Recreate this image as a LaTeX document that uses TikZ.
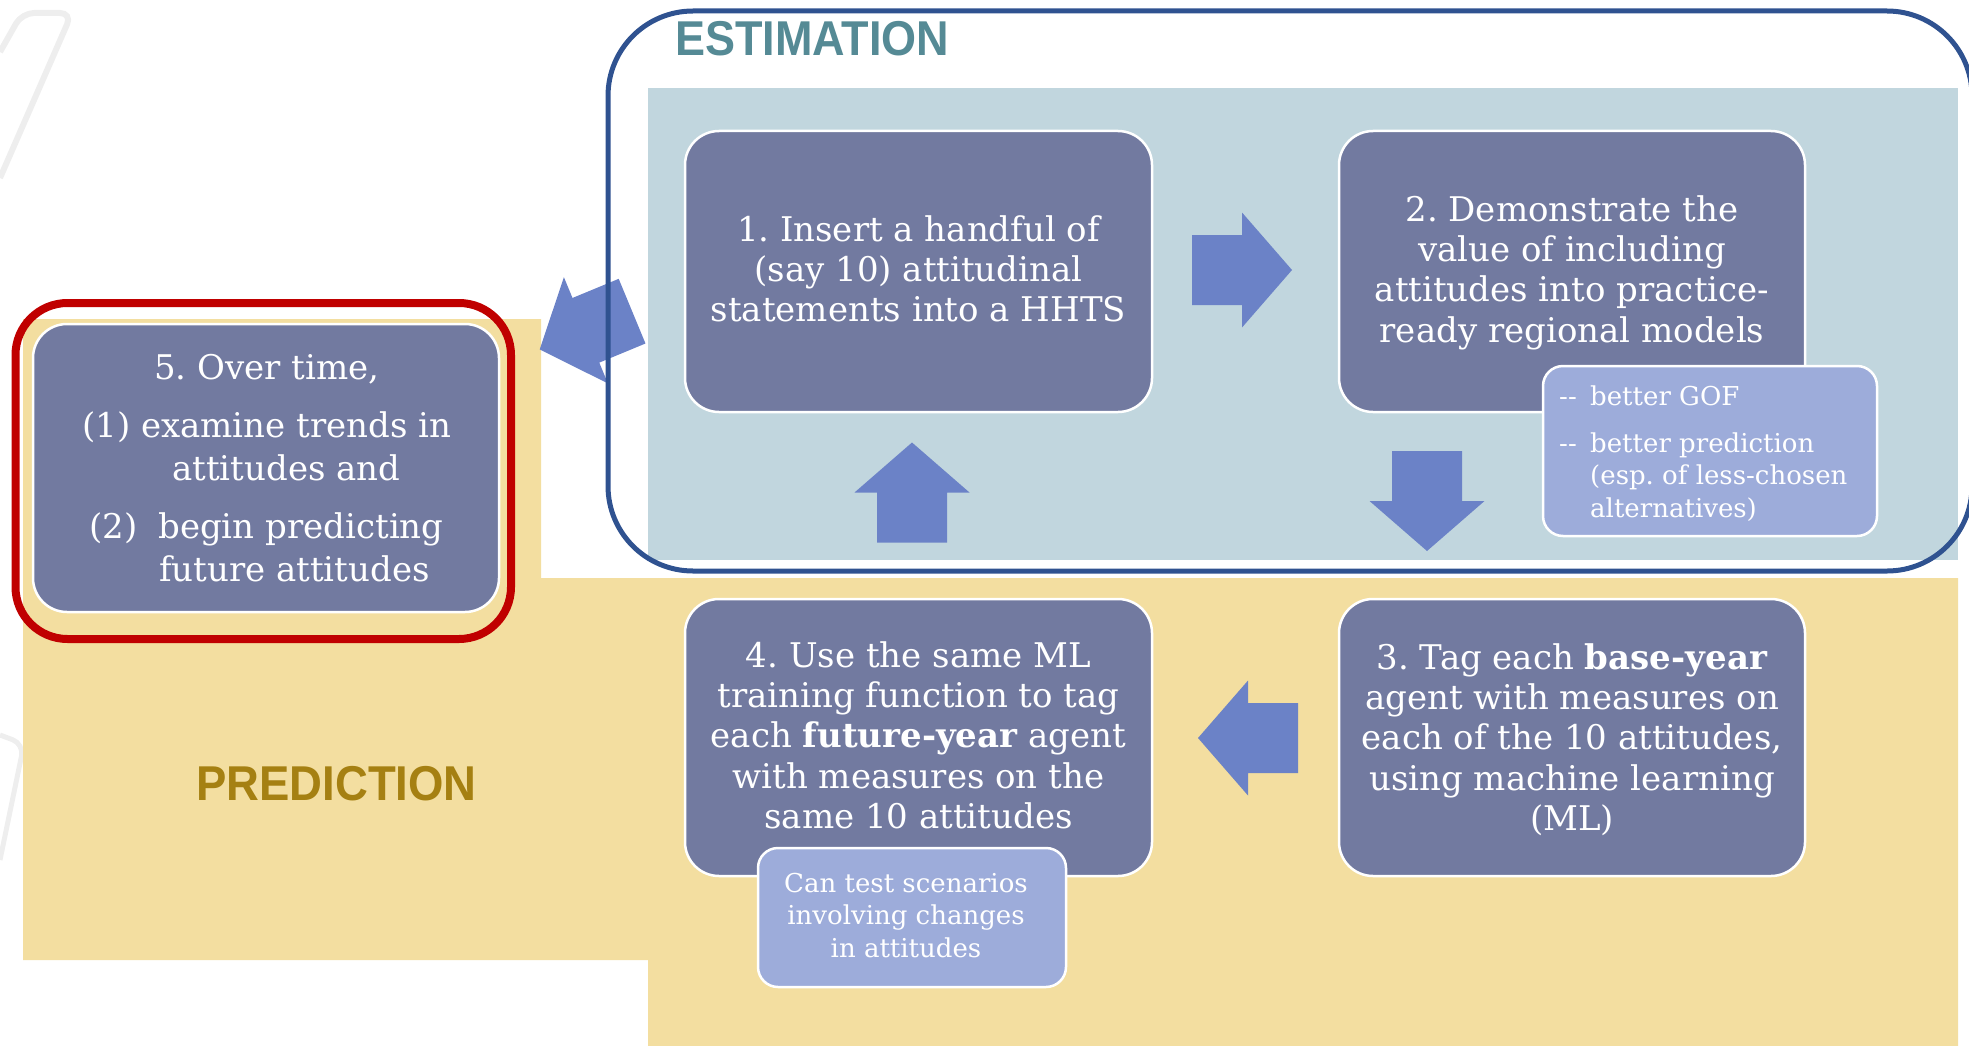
\documentclass[tikz,border=0pt]{standalone}
\usepackage{fontspec}
\setmainfont{DejaVu Serif}
\newfontfamily\headfont{Liberation Sans}
\usetikzlibrary{calc}
\frenchspacing

\definecolor{stagefill}{HTML}{727AA0}
\definecolor{notefill}{HTML}{9DACDA}
\definecolor{arrowblue}{HTML}{6B82C7}
\definecolor{estpanel}{HTML}{C1D6DE}
\definecolor{sand}{HTML}{F3DEA0}
\definecolor{frameblue}{HTML}{2F5290}
\definecolor{focusred}{HTML}{C00000}
\definecolor{esttext}{HTML}{558A95}
\definecolor{predtext}{HTML}{A58012}
\definecolor{decogray}{HTML}{EEEEEE}

\tikzset{
  stagebox/.style={rectangle, rounded corners=34pt, fill=stagefill, draw=white,
    line width=2.5pt, minimum width=467pt, minimum height=281pt, inner sep=0pt},
  notebox/.style={rectangle, rounded corners=20pt, fill=notefill, draw=white,
    line width=2.5pt, inner sep=0pt},
  stagetext/.style={text=white, inner sep=0pt, anchor=north, align=center,
    font=\fontsize{34}{40.3}\selectfont},
  notetext/.style={text=white, inner sep=0pt, font=\fontsize{26}{32.5}\selectfont},
  heading/.style={inner sep=0pt, anchor=base west,
    font=\headfont\bfseries\fontsize{48.9}{52}\selectfont},
  pics/blockarrow/.style={code={
    \fill[arrowblue] (-50,-35) -- (0,-35) -- (0,-57.5) -- (50,0)
      -- (0,57.5) -- (0,35) -- (-50,35) -- cycle;}}
}

\begin{document}
\begin{tikzpicture}[x=1pt, y=-1pt]
\useasboundingbox (0,0) rectangle (1969,1046);
\clip (0,0) rectangle (1969,1046);

% faint background strokes at the left edge
\draw[decogray, line width=6pt, rounded corners=12pt] (0,52) -- (22,13) -- (72,13) -- (0,178);
\draw[decogray, line width=5pt, rounded corners=12pt] (0,735) -- (24,744) -- (0,860);

% prediction area
\fill[sand] (23,319) -- (541,319) -- (541,578) -- (1958,578) -- (1958,1046)
  -- (648,1046) -- (648,960) -- (23,960) -- cycle;

% estimation panel
\fill[estpanel] (648,88) rectangle (1958,560);

% arrow from step 1 back to step 5
\pic[rotate=202.5] at (585.9,330.3) {blockarrow};

% estimation frame
\draw[frameblue, line width=5pt, rounded corners=85pt] (608,11) rectangle (1972,571);

\node[heading, text=esttext] (hest) at (675,56) {\scalebox{0.92}[1]{ESTIMATION}};
\node[heading, text=predtext] (hpred) at (196,800) {\scalebox{0.93}[1]{PREDICTION}};

% highlight ring round step 5
\node[draw=focusred, line width=8pt, rounded corners=52pt, minimum width=495.5pt,
  minimum height=336pt, inner sep=0pt] (focus) at (263.25,471) {};

% the five steps
\node[stagebox] (b1) at (918.5,271.5) {};
\node[stagebox, minimum width=466pt] (b2) at (1572,271.5) {};
\node[stagebox, minimum width=466pt, minimum height=277pt] (b3) at (1572,737.5) {};
\node[stagebox, minimum height=277pt] (b4) at (918.5,737.5) {};
\node[stagebox, minimum width=466pt, minimum height=288pt] (b5) at (266,468) {};

% notes attached to steps 2 and 4
\node[notebox, minimum width=334pt, minimum height=170pt] (gof) at (1710,451) {};
\node[notebox, minimum width=308pt, minimum height=139pt] (scen) at (912,917.5) {};

% flow arrows
\pic at (1242,270) {blockarrow};
\pic[rotate=-90] at (1427,501) {blockarrow};
\pic[rotate=180] at (1248,738) {blockarrow};
\pic[rotate=90] at (912,492.5) {blockarrow};

% step texts
\node[stagetext] (t1) at (918.5,212.8) {\strut 1. Insert a handful of\\(say 10) attitudinal\\statements into a HHTS};
\node[stagetext] (t2) at (1572,192.8) {\strut 2. Demonstrate the\\value of including\\attitudes into practice-\\ready regional models};
\node[stagetext] (t3) at (1572,640.8) {\strut 3. Tag each \textbf{base-year}\\agent with measures on\\each of the 10 attitudes,\\using machine learning\\(ML)};
\node[stagetext] (t4) at (918.5,638.8) {\strut 4. Use the same ML\\training function to tag\\each \textbf{future-year} agent\\with measures on the\\same 10 attitudes};
\node[stagetext, anchor=north west, align=left, font=\fontsize{34}{42.5}\selectfont] (t5) at (82,349.25)
  {\strut\hspace*{72pt}5. Over time,\\[16pt]
   (1) examine trends in\\
   \hspace*{90pt}attitudes and\\[16pt]
   \hspace*{7pt}(2)\hspace{21pt}begin predicting\\
   \hspace*{77pt}future attitudes};

\node[notetext, anchor=north west, align=left] (tg) at (1559,382.25)
  {\strut\makebox[31pt][l]{\mbox{-}\mbox{-}}better GOF\\[14.5pt]
   \makebox[31pt][l]{\mbox{-}\mbox{-}}better prediction\\
   \hspace*{31pt}(esp. of less-chosen\\
   \hspace*{31pt}alternatives)};
\node[notetext, anchor=north, align=center] (ts) at (906,869.25)
  {\strut Can test scenarios\\involving changes\\in attitudes};
\end{tikzpicture}
\end{document}
